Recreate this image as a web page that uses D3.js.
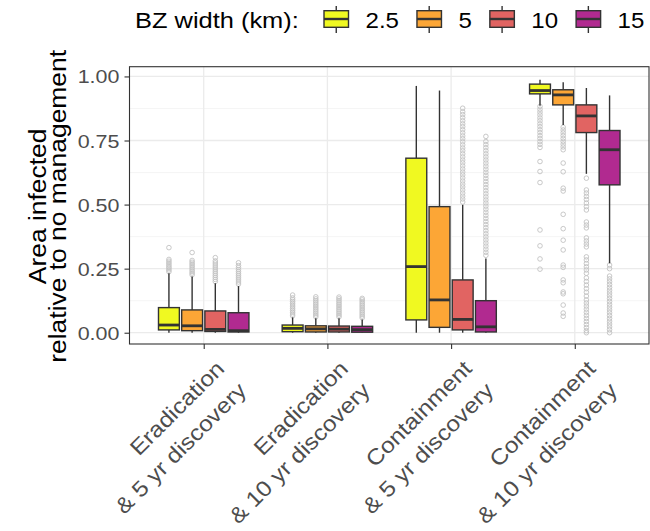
<!DOCTYPE html>
<html>
<head>
<meta charset="utf-8">
<script src="https://cdn.jsdelivr.net/npm/d3@7"></script>
<style>
  body { margin: 0; background: #fff; }
  svg { display: block; font-family: "Liberation Sans", Arial, Helvetica, sans-serif; }
</style>
</head>
<body>
<svg id="chart" width="650" height="531"></svg>
<script>
// Management scenarios on the x axis (two-line labels)
const categories = ["erad5", "erad10", "cont5", "cont10"];
const categoryLabels = [
  ["Eradication", "& 5 yr discovery"],
  ["Eradication", "& 10 yr discovery"],
  ["Containment", "& 5 yr discovery"],
  ["Containment", "& 10 yr discovery"]
];

// Buffer-zone widths (km) and their fills
const bzWidths = ["2.5", "5", "10", "15"];
const bzColors = ["#F0F921", "#FCA636", "#E16462", "#B12A90"];

// Box statistics per buffer width: [lower whisker, Q1, median, Q3, upper whisker]
const erad5Stats = [
  [0.000, 0.011, 0.030, 0.098, 0.232],
  [0.000, 0.008, 0.027, 0.089, 0.219],
  [0.000, 0.005, 0.013, 0.085, 0.193],
  [0.000, 0.003, 0.008, 0.078, 0.182]
];
const erad10Stats = [
  [0.000, 0.004, 0.017, 0.030, 0.060],
  [0.000, 0.003, 0.015, 0.027, 0.056],
  [0.000, 0.003, 0.014, 0.026, 0.056],
  [0.000, 0.002, 0.012, 0.025, 0.052]
];
const cont5Stats = [
  [0.000, 0.050, 0.258, 0.681, 0.963],
  [0.000, 0.021, 0.128, 0.492, 0.945],
  [0.000, 0.011, 0.052, 0.206, 0.499],
  [0.000, 0.003, 0.023, 0.125, 0.290]
];
const cont10Stats = [
  [0.886, 0.932, 0.945, 0.970, 0.987],
  [0.811, 0.889, 0.928, 0.948, 0.977],
  [0.620, 0.781, 0.846, 0.889, 0.955],
  [0.271, 0.577, 0.714, 0.789, 0.926]
];

// Outlying simulation runs per buffer width
const erad5Outliers = [
  [0.238, 0.245, 0.252, 0.258, 0.265, 0.272, 0.279, 0.286, 0.332],
  [0.226, 0.233, 0.240, 0.247, 0.254, 0.261, 0.268, 0.275, 0.282, 0.313],
  [0.200, 0.208, 0.216, 0.224, 0.232, 0.240, 0.248, 0.256, 0.264, 0.272, 0.280, 0.293],
  [0.190, 0.198, 0.206, 0.214, 0.222, 0.230, 0.238, 0.246, 0.254, 0.262, 0.273]
];
const erad10Outliers = [
  [0.066, 0.073, 0.080, 0.087, 0.094, 0.101, 0.108, 0.115, 0.122, 0.129, 0.136, 0.147],
  [0.062, 0.069, 0.076, 0.083, 0.090, 0.097, 0.104, 0.111, 0.118, 0.125, 0.132, 0.140],
  [0.062, 0.069, 0.076, 0.083, 0.090, 0.097, 0.104, 0.111, 0.118, 0.125, 0.132, 0.139],
  [0.058, 0.065, 0.072, 0.079, 0.086, 0.093, 0.100, 0.107, 0.114, 0.121, 0.128, 0.134]
];
const cont5Outliers = [
  [],
  [],
  [0.510, 0.522, 0.533, 0.545, 0.557, 0.569, 0.580, 0.592, 0.604, 0.616, 0.627, 0.639,
   0.651, 0.663, 0.674, 0.686, 0.698, 0.710, 0.721, 0.733, 0.745, 0.757, 0.768, 0.780,
   0.792, 0.804, 0.815, 0.827, 0.839, 0.851, 0.862, 0.876],
  [0.302, 0.314, 0.326, 0.338, 0.350, 0.362, 0.374, 0.386, 0.398, 0.410, 0.422, 0.434,
   0.446, 0.458, 0.470, 0.482, 0.494, 0.506, 0.518, 0.530, 0.542, 0.554, 0.566, 0.578,
   0.590, 0.602, 0.614, 0.626, 0.638, 0.650, 0.662, 0.674, 0.686, 0.698, 0.710, 0.722,
   0.734, 0.746, 0.766]
];
const cont10Outliers = [
  [0.723, 0.735, 0.746, 0.758, 0.769, 0.781, 0.792, 0.804, 0.815, 0.827, 0.838, 0.850,
   0.861, 0.872, 0.883, 0.668, 0.629, 0.586, 0.401, 0.339, 0.288, 0.248],
  [0.714, 0.725, 0.736, 0.747, 0.758, 0.769, 0.780, 0.791, 0.802, 0.662, 0.628, 0.564,
   0.553, 0.462, 0.406, 0.361, 0.323, 0.264, 0.255, 0.206, 0.195, 0.159, 0.152, 0.108,
   0.077, 0.064],
  [0.603, 0.557, 0.545, 0.532, 0.520, 0.506, 0.492, 0.479, 0.432, 0.420, 0.409, 0.370,
   0.358, 0.346, 0.335, 0.296, 0.284, 0.270, 0.257, 0.245, 0.232, 0.214, 0.200, 0.186,
   0.172, 0.158, 0.143, 0.128, 0.116, 0.104, 0.092, 0.080, 0.068, 0.056, 0.044, 0.032,
   0.020, 0.008, 0.000],
  [0.264, 0.250, 0.221, 0.210, 0.199, 0.188, 0.177, 0.166, 0.155, 0.144, 0.133, 0.122,
   0.111, 0.100, 0.089, 0.078, 0.067, 0.056, 0.045, 0.034, 0.023, 0.012, 0.000]
];

// Y-axis tick values
const yTicks = [0, 0.25, 0.5, 0.75, 1];
const yMinorTicks = [0.125, 0.375, 0.625, 0.875];

const statsByCategory = [erad5Stats, erad10Stats, cont5Stats, cont10Stats];
const outliersByCategory = [erad5Outliers, erad10Outliers, cont5Outliers, cont10Outliers];

// ---- layout ----
const svg = d3.select("#chart");
const panel = { left: 129.5, right: 649, top: 66.7, bottom: 344 };
const ink = "#333333";
const tickText = "#4D4D4D";
const SX = 1.12; // horizontal widening of the glyphs

// text drawn in its own rotated frame, widened along the reading direction
function addText(parent, px, py, angle, size, anchor, fill) {
  return parent.append("text")
    .attr("transform", `translate(${px},${py}) rotate(${angle}) scale(${SX},1)`)
    .attr("text-anchor", anchor).attr("font-size", size).attr("fill", fill);
}

const x = d3.scalePoint().domain(categories).range([panel.left, panel.right]).padding(0.6);
const dodgeWidth = x.step() * 0.75;
const xInner = d3.scaleBand().domain(bzWidths).range([-dodgeWidth / 2, dodgeWidth / 2]);
const boxW = xInner.bandwidth() * 0.9;

const y = d3.scaleLinear().domain([-0.044, 1.038]).range([panel.bottom, panel.top]);

// grid
const grid = svg.append("g");
grid.selectAll("line.minor").data(yMinorTicks).join("line")
  .attr("x1", panel.left).attr("x2", panel.right)
  .attr("y1", d => y(d)).attr("y2", d => y(d))
  .attr("stroke", "#F2F2F2").attr("stroke-width", 0.8);
grid.selectAll("line.majory").data(yTicks).join("line")
  .attr("x1", panel.left).attr("x2", panel.right)
  .attr("y1", d => y(d)).attr("y2", d => y(d))
  .attr("stroke", "#EBEBEB").attr("stroke-width", 1.3);
grid.selectAll("line.majorx").data(categories).join("line")
  .attr("x1", d => x(d)).attr("x2", d => x(d))
  .attr("y1", panel.top).attr("y2", panel.bottom)
  .attr("stroke", "#EBEBEB").attr("stroke-width", 1.3);

// boxes
const plot = svg.append("g");
categories.forEach((cat, ci) => {
  bzWidths.forEach((bw, si) => {
    const [lo, q1, med, q3, hi] = statsByCategory[ci][si];
    const cx = x(cat) + xInner(bw) + xInner.bandwidth() / 2;
    const g = plot.append("g");
    g.selectAll("circle").data(outliersByCategory[ci][si]).join("circle")
      .attr("cx", cx).attr("cy", d => y(d)).attr("r", 2.3)
      .attr("fill", "none").attr("stroke", "#C2C2C2").attr("stroke-width", 0.9);
    g.append("line").attr("x1", cx).attr("x2", cx).attr("y1", y(q3)).attr("y2", y(hi))
      .attr("stroke", ink).attr("stroke-width", 1.4);
    g.append("line").attr("x1", cx).attr("x2", cx).attr("y1", y(q1)).attr("y2", y(lo))
      .attr("stroke", ink).attr("stroke-width", 1.4);
    g.append("rect").attr("x", cx - boxW / 2).attr("width", boxW)
      .attr("y", y(q3)).attr("height", Math.max(0, y(q1) - y(q3)))
      .attr("fill", bzColors[si]).attr("stroke", ink).attr("stroke-width", 1.4);
    g.append("line").attr("x1", cx - boxW / 2).attr("x2", cx + boxW / 2)
      .attr("y1", y(med)).attr("y2", y(med))
      .attr("stroke", ink).attr("stroke-width", 2.8);
  });
});

// panel border
svg.append("rect").attr("x", panel.left).attr("y", panel.top)
  .attr("width", panel.right - panel.left).attr("height", panel.bottom - panel.top)
  .attr("fill", "none").attr("stroke", ink).attr("stroke-width", 1.1);

// y axis ticks and labels
const yAxis = svg.append("g").attr("transform", `translate(${panel.left},0)`)
  .call(d3.axisLeft(y).tickValues(yTicks).tickFormat("").tickSize(5));
yAxis.select(".domain").remove();
yAxis.selectAll(".tick line").attr("stroke", ink).attr("stroke-width", 1.1);
yTicks.forEach(v => {
  addText(svg, panel.left - 10, y(v) + 7, 0, 19.2, "end", tickText).text(d3.format(".2f")(v));
});

// x axis ticks
const xAxis = svg.append("g").attr("transform", `translate(0,${panel.bottom})`)
  .call(d3.axisBottom(x).tickSize(5).tickFormat(""));
xAxis.select(".domain").remove();
xAxis.selectAll(".tick line").attr("stroke", ink).attr("stroke-width", 1.1);

// rotated two-line category labels
categories.forEach((cat, ci) => {
  const t = addText(svg, x(cat) + 22, panel.bottom + 26, -45, 21.9, "end", tickText);
  categoryLabels[ci].forEach((line, li) => {
    t.append("tspan").attr("x", 0).attr("y", li * 31).text(line);
  });
});

// y axis title
const yTitle = addText(svg, 45.5, (panel.top + panel.bottom) / 2 + 1, -90, 23.6, "middle", "#000");
yTitle.append("tspan").attr("x", 0).attr("y", 0).text("Area infected");
yTitle.append("tspan").attr("x", 0).attr("y", 20.5).text("relative to no management");

// legend
const legend = svg.append("g");
addText(legend, 135, 27.5, 0, 22.7, "start", "#000").text("BZ width (km):");
let lx = 324;
const keyW = 24.5, keyTop = 10.7, keyBot = 27.3;
bzWidths.forEach((bw, si) => {
  const kc = lx + keyW / 2;
  legend.append("line").attr("x1", kc).attr("x2", kc).attr("y1", 6).attr("y2", 33)
    .attr("stroke", ink).attr("stroke-width", 1.4);
  legend.append("rect").attr("x", lx).attr("y", keyTop).attr("width", keyW)
    .attr("height", keyBot - keyTop).attr("fill", bzColors[si])
    .attr("stroke", ink).attr("stroke-width", 1.4);
  legend.append("line").attr("x1", lx).attr("x2", lx + keyW)
    .attr("y1", (keyTop + keyBot) / 2).attr("y2", (keyTop + keyBot) / 2)
    .attr("stroke", ink).attr("stroke-width", 2.4);
  const label = addText(legend, lx + keyW + 17, 27.5, 0, 21.5, "start", "#000").text(bw);
  lx = lx + keyW + 17 + label.node().getComputedTextLength() * SX + 18;
});
</script>
</body>
</html>
